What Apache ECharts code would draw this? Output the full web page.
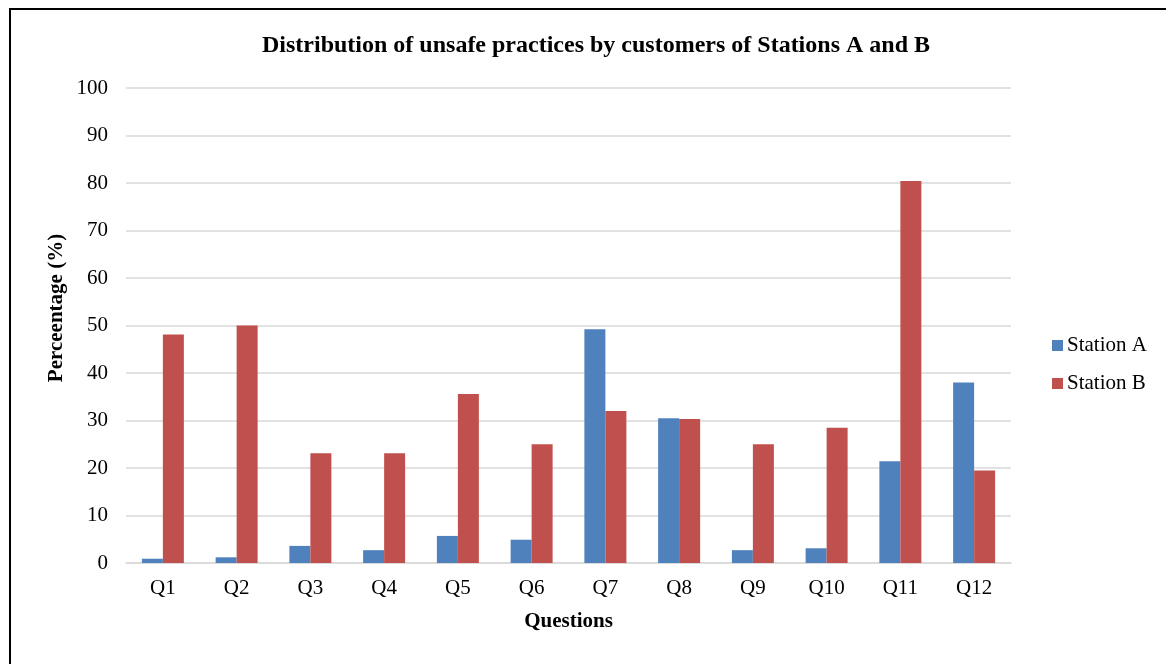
<!DOCTYPE html>
<html>
<head>
<meta charset="utf-8">
<script src="https://cdn.jsdelivr.net/npm/echarts@6/dist/echarts.min.js"></script>
<style>
  html, body { margin: 0; padding: 0; background: #fff; }
  #chart { width: 1166px; height: 664px; }
</style>
</head>
<body>
<div id="chart"></div>
<script>
// Questions on the x axis
const questions = ['Q1', 'Q2', 'Q3', 'Q4', 'Q5', 'Q6', 'Q7', 'Q8', 'Q9', 'Q10', 'Q11', 'Q12'];
// Percentage of customers with unsafe practices, per station
const stationA = [0.9, 1.2, 3.6, 2.7, 5.7, 4.9, 49.2, 30.5, 2.7, 3.1, 21.4, 38.0];
const stationB = [48.1, 50.0, 23.1, 23.1, 35.6, 25.0, 32.0, 30.3, 25.0, 28.5, 80.4, 19.5];
const seriesNames = ['Station A', 'Station B'];
const seriesColors = ['#4F81BD', '#C0504D'];

const serif = '"Liberation Serif", "Times New Roman", serif';
const chart = echarts.init(document.getElementById('chart'), null, { renderer: 'canvas' });

chart.setOption({
  backgroundColor: '#fff',
  animation: false,
  textStyle: { fontFamily: serif, color: '#000' },
  title: {
    text: 'Distribution of unsafe practices by customers of Stations A and B',
    left: 591,
    textAlign: 'center',
    top: 29,
    textStyle: { fontFamily: serif, fontSize: 24, fontWeight: 'bold', color: '#000' }
  },
  legend: {
    orient: 'vertical',
    left: 1047,
    top: 330,
    itemWidth: 11,
    itemHeight: 11,
    itemGap: 17,
    icon: 'rect',
    textStyle: { fontFamily: serif, fontSize: 21, color: '#000', padding: [0, 0, 0, -1] },
    data: seriesNames
  },
  grid: { left: 126, right: 155, top: 88, bottom: 101, containLabel: false },
  xAxis: {
    type: 'category',
    data: questions,
    name: 'Questions',
    nameLocation: 'middle',
    nameGap: 48,
    nameTextStyle: { fontFamily: serif, fontSize: 21, fontWeight: 'bold', color: '#000' },
    axisLine: { lineStyle: { color: '#d9d9d9', width: 1.5 } },
    axisTick: { show: false },
    axisLabel: { fontFamily: serif, fontSize: 21, color: '#000', margin: 15 }
  },
  yAxis: {
    type: 'value',
    min: 0,
    max: 100,
    interval: 10,
    axisLine: { show: false },
    axisTick: { show: false },
    axisLabel: { fontFamily: serif, fontSize: 21, color: '#000', margin: 18 },
    splitLine: { lineStyle: { color: '#d9d9d9', width: 1.5 } }
  },
  series: [
    {
      name: seriesNames[0],
      type: 'bar',
      data: stationA,
      barWidth: 21,
      barGap: '0%',
      itemStyle: { color: seriesColors[0] }
    },
    {
      name: seriesNames[1],
      type: 'bar',
      data: stationB,
      barWidth: 21,
      barGap: '0%',
      itemStyle: { color: seriesColors[1] }
    }
  ],
  graphic: [
    {
      // outer frame around the chart
      type: 'rect',
      shape: { x: 10, y: 9, width: 1200, height: 700 },
      style: { fill: 'none', stroke: '#000', lineWidth: 2 },
      silent: true
    },
    {
      // y axis title, set a little above the plot's middle
      type: 'text',
      x: 57,
      y: 308,
      rotation: Math.PI / 2,
      style: {
        text: 'Perceentage (%)',
        fontFamily: serif,
        fontSize: 21,
        fontWeight: 'bold',
        fill: '#000',
        align: 'center',
        verticalAlign: 'middle'
      },
      silent: true
    }
  ]
});
</script>
</body>
</html>
